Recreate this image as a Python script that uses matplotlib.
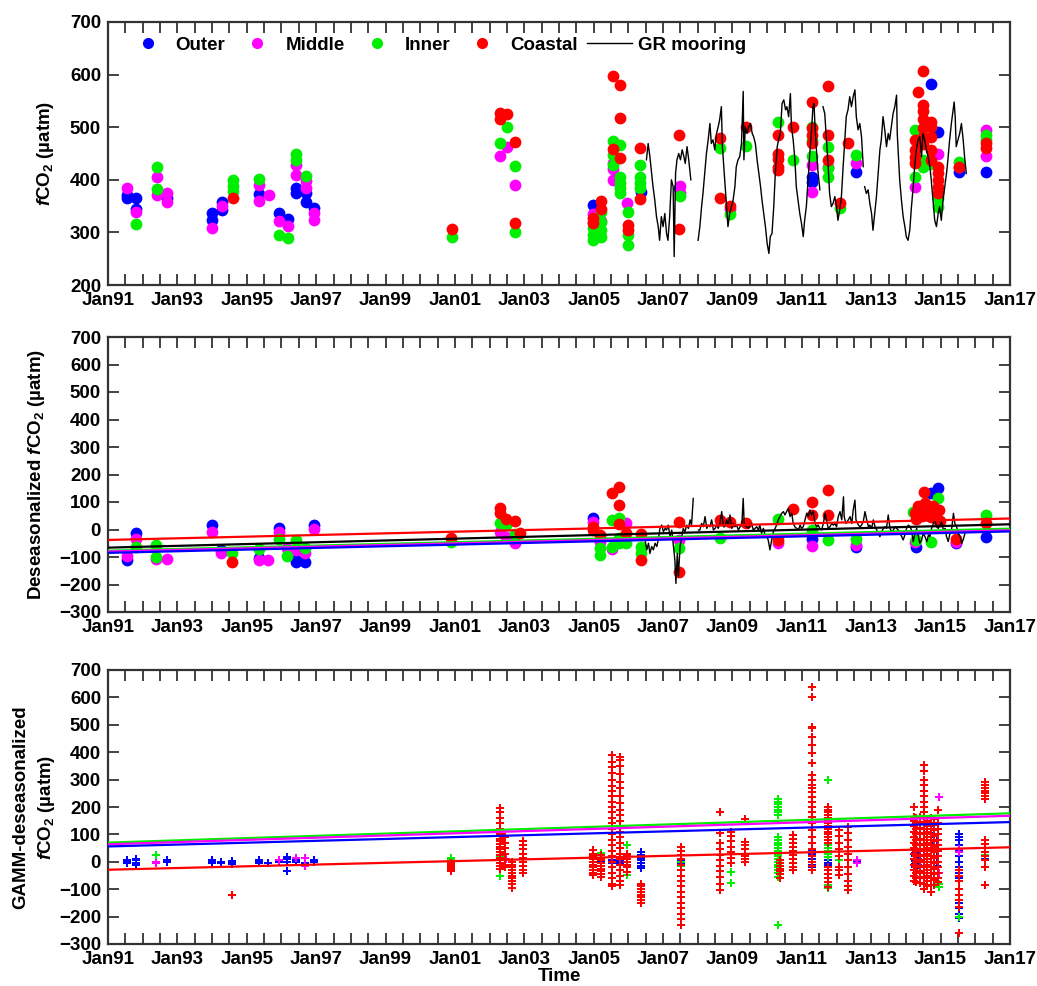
import numpy as np
import matplotlib
matplotlib.use('Agg')
import matplotlib.pyplot as plt
from matplotlib.lines import Line2D

plt.rcParams['font.family'] = ['Liberation Sans', 'DejaVu Sans']
plt.rcParams['font.weight'] = 'bold'
plt.rcParams['axes.labelweight'] = 'bold'
plt.rcParams['mathtext.fontset'] = 'custom'
plt.rcParams['mathtext.rm'] = 'Liberation Sans:bold'
plt.rcParams['mathtext.it'] = 'Liberation Sans:italic:bold'
plt.rcParams['mathtext.bf'] = 'Liberation Sans:bold'

C_OUT, C_MID, C_INN, C_COA = '#0000ff', '#ff00ff', '#00ee00', '#ff0000'

# ---------------- Panel 1: fCO2 ----------------
p1_outer_t = [1991.55, 1991.55, 1991.80, 1991.80, 1992.70, 1994.00, 1994.00, 1994.30, 1994.30, 1995.35,
              1995.93, 1996.18, 1996.43, 1996.43, 1996.70, 1996.70, 1996.95, 2004.98, 2006.36, 2007.46,
              2011.28, 2011.28, 2012.57, 2014.72, 2014.93, 2015.53, 2016.30]
p1_outer_v = [372, 365, 365, 344, 365, 336, 324, 358, 342, 373,
              336, 325, 385, 375, 375, 358, 347, 352, 377, 385,
              406, 396, 415, 583, 491, 415, 415]

p1_middle_t = [1991.55, 1991.80, 1992.40, 1992.40, 1992.70, 1992.70, 1994.00, 1994.30, 1995.35, 1995.35,
               1995.63, 1995.94, 1996.18, 1996.43, 1996.43, 1996.70, 1996.70, 1996.95, 1996.95, 2002.30,
               2002.50, 2002.73, 2004.98, 2004.98, 2005.20, 2005.55, 2005.55, 2005.55, 2005.95, 2007.50,
               2007.50, 2008.93, 2011.28, 2011.28, 2011.76, 2012.57, 2014.25, 2014.93, 2015.53, 2016.30,
               2016.30]
p1_middle_v = [385, 338, 405, 372, 375, 358, 309, 350, 390, 360,
               372, 322, 313, 428, 410, 398, 385, 336, 323, 445,
               462, 390, 335, 320, 322, 432, 420, 400, 355, 388,
               375, 345, 428, 377, 425, 431, 387, 450, 425, 495,
               445]

p1_inner_t = [1991.80, 1992.40, 1992.40, 1994.60, 1994.60, 1994.60, 1995.35, 1995.94, 1996.18, 1996.43,
              1996.43, 1996.70, 2000.92, 2002.30, 2002.50, 2002.73, 2002.73, 2004.99, 2004.99, 2004.99,
              2005.21, 2005.21, 2005.21, 2005.21, 2005.55, 2005.55, 2005.55, 2005.76, 2005.76, 2005.76,
              2005.76, 2005.76, 2005.98, 2005.98, 2005.98, 2006.34, 2006.34, 2006.34, 2006.34, 2007.50,
              2008.64, 2008.93, 2009.40, 2010.30, 2010.74, 2011.28, 2011.28, 2011.28, 2011.76, 2011.76,
              2011.76, 2012.09, 2012.57, 2014.25, 2014.25, 2014.50, 2014.50, 2014.72, 2014.93, 2014.93,
              2015.53, 2016.30, 2016.30]
p1_inner_v = [316, 425, 383, 400, 388, 378, 402, 296, 290, 450,
              438, 408, 292, 470, 500, 426, 300, 308, 295, 285,
              339, 320, 305, 292, 474, 447, 428, 466, 406, 394,
              384, 374, 339, 295, 276, 428, 405, 393, 384, 370,
              460, 335, 465, 510, 438, 500, 475, 445, 463, 422,
              406, 346, 447, 495, 406, 437, 425, 430, 365, 349,
              434, 485, 475]

p1_coastal_t = [1994.60, 2000.92, 2002.30, 2002.30, 2002.50, 2002.73, 2002.73, 2004.99, 2004.99, 2005.21,
                2005.21, 2005.55, 2005.55, 2005.76, 2005.76, 2005.76, 2005.98, 2005.98, 2006.34, 2006.34,
                2007.46, 2007.46, 2008.64, 2008.64, 2008.93, 2009.40, 2010.30, 2010.30, 2010.30, 2010.30,
                2010.30, 2010.74, 2011.28, 2011.28, 2011.28, 2011.28, 2011.76, 2011.76, 2011.76, 2012.09,
                2012.33, 2014.25, 2014.25, 2014.25, 2014.25, 2014.35, 2014.50, 2014.50, 2014.50, 2014.50,
                2014.50, 2014.50, 2014.50, 2014.72, 2014.72, 2014.72, 2014.72, 2014.72, 2014.93, 2014.93,
                2014.93, 2014.93, 2014.93, 2015.53, 2016.30, 2016.30]
p1_coastal_v = [365, 307, 527, 515, 525, 472, 318, 327, 317, 360,
                345, 597, 458, 580, 517, 441, 314, 305, 460, 363,
                485, 307, 480, 365, 350, 500, 485, 450, 440, 425,
                418, 500, 548, 498, 485, 470, 579, 485, 438, 355,
                470, 476, 457, 444, 431, 566, 606, 542, 530, 515,
                498, 482, 469, 510, 500, 482, 457, 437, 425, 412,
                400, 387, 374, 425, 470, 460]

# GR mooring (NaN = data gap)
p1_moor_t = [2006.52, 2006.57, 2006.62, 2006.66, 2006.71, 2006.76, 2006.81, 2006.86, 2006.90, 2006.95,
             2007.00, 2007.05, 2007.10, 2007.14, 2007.19, 2007.24, 2007.29, 2007.32, 2007.36, 2007.40,
             2007.45, 2007.50, 2007.55, 2007.60, 2007.64, 2007.69, 2007.74, 2007.80, 2007.90, 2008.01,
             2008.06, 2008.11, 2008.15, 2008.20, 2008.25, 2008.30, 2008.35, 2008.39, 2008.44, 2008.49,
             2008.54, 2008.59, 2008.63, 2008.68, 2008.71, 2008.75, 2008.79, 2008.83, 2008.87, 2008.92,
             2008.97, 2009.02, 2009.07, 2009.11, 2009.16, 2009.21, 2009.26, 2009.31, 2009.33, 2009.37,
             2009.42, 2009.47, 2009.52, 2009.57, 2009.61, 2009.66, 2009.71, 2009.76, 2009.81, 2009.85,
             2009.90, 2009.95, 2010.00, 2010.05, 2010.09, 2010.14, 2010.19, 2010.24, 2010.29, 2010.33,
             2010.38, 2010.43, 2010.48, 2010.53, 2010.57, 2010.62, 2010.67, 2010.70, 2010.75, 2010.80,
             2010.84, 2010.89, 2010.94, 2010.99, 2011.04, 2011.08, 2011.13, 2011.18, 2011.23, 2011.28,
             2011.32, 2011.35, 2011.38, 2011.42, 2011.47, 2011.52, 2011.56, 2011.61, 2011.66, 2011.71,
             2011.76, 2011.80, 2011.85, 2011.90, 2011.95, 2012.00, 2012.04, 2012.09, 2012.14, 2012.19,
             2012.24, 2012.28, 2012.33, 2012.38, 2012.43, 2012.48, 2012.53, 2012.57, 2012.62, 2012.67,
             2012.72, 2012.77, 2012.79, 2012.81, 2012.86, 2012.91, 2012.96, 2013.01, 2013.05, 2013.10,
             2013.15, 2013.20, 2013.25, 2013.29, 2013.34, 2013.39, 2013.44, 2013.49, 2013.53, 2013.58,
             2013.63, 2013.68, 2013.73, 2013.75, 2013.79, 2013.82, 2013.87, 2013.92, 2013.97, 2014.01,
             2014.06, 2014.11, 2014.16, 2014.21, 2014.25, 2014.30, 2014.35, 2014.40, 2014.45, 2014.49,
             2014.54, 2014.59, 2014.64, 2014.69, 2014.73, 2014.78, 2014.83, 2014.88, 2014.93, 2014.97,
             2015.02, 2015.07, 2015.12, 2015.17, 2015.21, 2015.26, 2015.31, 2015.36, 2015.39, 2015.42,
             2015.45, 2015.50, 2015.55, 2015.60, 2015.65, 2015.69, 2015.74]
p1_moor_v = [438, 469, 444, 419, 387, 362, 330, 311, 285, 330,
             311, 336, 298, 285, 330, 400, 387, 254, 412, 438,
             450, 438, 457, 444, 431, 463, 438, 400, np.nan, 285,
             311, 349, 374, 412, 450, 476, 507, 469, 476, 457,
             488, 501, 514, 539, 463, 425, 387, 349, 311, 336,
             349, 362, 387, 425, 438, 444, 469, 568, 438, 501,
             488, 501, 507, 488, 482, 469, 438, 412, 387, 362,
             336, 311, 279, 260, 292, 298, 349, 419, 463, 476,
             488, 545, 552, 533, 539, 520, 564, 501, 476, 438,
             387, 362, 336, 317, 292, 323, 349, 400, 450, 495,
             539, 545, 501, 457, 412, 381, np.nan, 539, 526, 476,
             425, 374, 349, 355, 368, 349, 323, 342, 368, 425,
             476, 520, 533, 558, 539, 558, 571, 520, 495, 507,
             482, 425, np.nan, 387, 374, 381, 355, 336, 304, 336,
             368, 412, 457, 476, 520, 495, 463, 488, 476, 501,
             526, 539, 561, 488, 438, 400, 362, 330, 311, 292,
             285, 304, 349, 387, 425, 457, 476, 482, 444, 488,
             476, 457, 444, 425, 400, 362, 323, 311, 336, 349,
             323, 362, 387, 412, 438, 476, 507, 533, 548, 520,
             463, 476, 488, 507, 476, 444, 412]

# ---------------- Panel 2: deseasonalized ----------------
p2_outer_t = [1991.54, 1991.80, 1994.00, 1994.25, 1995.35, 1995.93, 1996.42, 1996.42, 1996.68, 1996.94,
              2004.98, 2011.28, 2012.57, 2014.30, 2014.72, 2014.92, 2015.44, 2016.30]
p2_outer_v = [-111, -11, 16, -74, -105, 4, -111, -119, -119, 16,
              41, -36, -65, -65, 131, 150, -50, -26]

p2_middle_t = [1991.54, 1991.80, 1992.38, 1992.69, 1994.00, 1994.25, 1995.35, 1995.62, 1995.93, 1996.17,
               1996.42, 1996.68, 1996.94, 2002.30, 2002.47, 2002.73, 2004.98, 2005.19, 2005.54, 2005.73,
               2005.94, 2007.46, 2010.31, 2011.28, 2012.57, 2014.25, 2015.44]
p2_middle_v = [-96, -36, -108, -108, -8, -84, -111, -111, -8, -68,
               -75, -87, 2, -8, -28, -50, 29, -45, -72, 30,
               25, -38, -50, -60, -55, -44, -45]

p2_inner_t = [1991.80, 1992.38, 1992.38, 1994.58, 1995.35, 1995.93, 1996.17, 1996.42, 1996.68, 2000.90,
              2002.30, 2002.47, 2002.73, 2005.19, 2005.19, 2005.54, 2005.54, 2005.73, 2005.73, 2005.73,
              2005.94, 2006.36, 2006.36, 2007.46, 2008.63, 2010.31, 2011.28, 2011.75, 2012.57, 2014.20,
              2014.30, 2014.72, 2014.93, 2016.30]
p2_inner_v = [-62, -56, -99, -87, -72, -36, -96, -38, -68, -44,
              22, 16, -16, -68, -93, 35, -62, 41, -32, -50,
              -50, -62, -87, -68, -32, 37, 0, -38, -36, 65,
              -38, -44, 113, 53]

p2_coastal_t = [1994.58, 2000.90, 2002.30, 2002.30, 2002.47, 2002.73, 2002.87, 2004.98, 2004.98, 2005.19,
                2005.54, 2005.73, 2005.73, 2005.73, 2005.94, 2006.36, 2006.36, 2007.46, 2007.46, 2008.63,
                2008.92, 2009.38, 2010.31, 2010.75, 2011.28, 2011.28, 2011.75, 2011.75, 2014.25, 2014.30,
                2014.35, 2014.40, 2014.45, 2014.52, 2014.55, 2014.62, 2014.65, 2014.72, 2014.78, 2014.85,
                2014.90, 2014.95, 2014.97, 2015.44, 2016.30]
p2_coastal_v = [-119, -32, 77, 61, 37, 31, -14, 10, -2, -20,
                132, 156, 89, 20, -14, -16, -111, 29, -153, 35,
                29, 22, -38, 73, 101, 53, 144, 53, 60, 40,
                85, 70, 50, 138, 95, 75, 55, 45, 85, 60,
                40, 70, 30, -36, 25]

p2_moor_t = [2006.48, 2006.53, 2006.58, 2006.62, 2006.67, 2006.72, 2006.77, 2006.82, 2006.86, 2006.91,
             2006.96, 2007.01, 2007.06, 2007.10, 2007.15, 2007.20, 2007.25, 2007.30, 2007.34, 2007.37,
             2007.41, 2007.44, 2007.49, 2007.54, 2007.58, 2007.63, 2007.68, 2007.73, 2007.78, 2007.82,
             2007.87, 2007.95, 2008.02, 2008.06, 2008.11, 2008.16, 2008.21, 2008.26, 2008.30, 2008.35,
             2008.40, 2008.45, 2008.50, 2008.55, 2008.59, 2008.64, 2008.69, 2008.74, 2008.78, 2008.83,
             2008.88, 2008.93, 2008.98, 2009.03, 2009.07, 2009.12, 2009.17, 2009.22, 2009.27, 2009.31,
             2009.34, 2009.41, 2009.46, 2009.51, 2009.55, 2009.60, 2009.65, 2009.70, 2009.75, 2009.79,
             2009.84, 2009.89, 2009.94, 2009.99, 2010.03, 2010.08, 2010.13, 2010.18, 2010.23, 2010.27,
             2010.32, 2010.37, 2010.42, 2010.47, 2010.51, 2010.56, 2010.61, 2010.66, 2010.71, 2010.75,
             2010.80, 2010.85, 2010.90, 2010.95, 2010.99, 2011.04, 2011.09, 2011.14, 2011.19, 2011.23,
             2011.28, 2011.33, 2011.38, 2011.43, 2011.47, 2011.52, 2011.57, 2011.62, 2011.67, 2011.71,
             2011.76, 2011.81, 2011.86, 2011.91, 2011.95, 2012.00, 2012.05, 2012.10, 2012.15, 2012.20,
             2012.22, 2012.27, 2012.34, 2012.39, 2012.44, 2012.48, 2012.53, 2012.56, 2012.63, 2012.68,
             2012.72, 2012.77, 2012.82, 2012.87, 2012.92, 2012.96, 2013.01, 2013.06, 2013.11, 2013.16,
             2013.20, 2013.25, 2013.30, 2013.35, 2013.40, 2013.44, 2013.49, 2013.54, 2013.59, 2013.64,
             2013.68, 2013.73, 2013.78, 2013.83, 2013.88, 2013.92, 2013.97, 2014.02, 2014.07, 2014.12,
             2014.16, 2014.21, 2014.26, 2014.31, 2014.36, 2014.40, 2014.45, 2014.50, 2014.55, 2014.60,
             2014.65, 2014.69, 2014.74, 2014.79, 2014.84, 2014.88, 2014.93, 2014.98, 2015.03, 2015.08,
             2015.13, 2015.17, 2015.22, 2015.27, 2015.32, 2015.37, 2015.41, 2015.46, 2015.51, 2015.56,
             2015.61, 2015.65, 2015.70]
p2_moor_v = [-38, -74, -50, -87, -62, -74, -50, -62, -38, 4,
             16, -8, 4, -2, 16, -26, -2, -62, -111, -196,
             -87, -171, -62, -26, 4, -8, 16, 4, 35, 16,
             113, np.nan, -2, -2, 22, 10, 47, 4, 16, 10,
             35, -2, 4, 16, 4, 22, 65, 10, 10, 35,
             16, 53, 4, 22, 10, 16, -2, 10, 16, 113,
             16, 10, 4, 16, 22, -2, 4, 10, -2, 16,
             -14, 4, -20, -26, -38, -74, -38, -8, 4, 16,
             35, 47, 59, 65, 53, 65, 77, 47, 59, 22,
             10, 4, -2, 16, 4, 10, 35, 59, 47, 71,
             53, 65, 22, 10, 16, 4, -2, 22, 59, 35,
             4, 10, 22, 16, 22, 10, 47, 65, 35, 119,
             47, 22, 35, 47, 22, 71, 107, 35, 16, 10,
             16, 28, 65, 35, 10, 16, 4, 35, 10, -2,
             -14, -26, -8, 4, 10, 4, 53, 4, -8, -2,
             10, 4, -2, -14, -26, -38, -20, 4, 16, 10,
             -2, -44, -14, 4, -26, -50, -38, -14, -26, -44,
             -20, -26, 4, 22, 35, 10, 4, 16, 28, -2,
             4, -26, -44, -14, 4, 59, 22, 10, -14, -26,
             -50, -38, -14]

trend_t = [1991.0, 2017.0]
p2_trend_coastal = [-38, 40]
p2_trend_moor = [-66, 19]
p2_trend_inner = [-77, 3]
p2_trend_middle = [-80, -3]
p2_trend_outer = [-85, -7]

# ---------------- Panel 3: GAMM-deseasonalized (columns of points) ----------------
g_outer_t = [1991.54, 1991.80, 1992.69, 1994.00, 1994.25, 1994.58, 1995.35, 1995.62, 1995.93, 1996.17,
             1996.42, 1996.68, 1996.94, 2004.99, 2005.20, 2005.52, 2005.76, 2005.95, 2006.36, 2007.52,
             2011.30, 2011.76, 2012.58, 2014.25, 2014.35, 2014.72, 2014.90, 2015.54, 2016.28]
g_outer_v = [[-5, 0, 5], [-10, -3, 5, 10], [0, 5, 8], [-3, 2, 6], [-5, 0], [-8, -2, 3], [-3, 3, 8], [-5],
             [0, 5], [-33, 0, 10, 18], [0, 6], [-5], [0, 6], [0, 12], [0, 8], [-5, 0, 5], [-5, 0, 5], [0],
             [-24, -15, -5, 5, 15, 25, 37], [-5, 0, 5], [-30, -20, -10, 0, 10, 20, 30, 43],
             [-12, -5, 5, 18], [0, 8], [-18, -8, 2, 12, 22, 33, 43], [-10, 0, 10, 20],
             [130, 105, 90, 67, 45, 20, 0, -20, -40], [80, 60, 40, 20, 0, -15],
             [100, 90, 80, 60, 40, 20, 0, -20, -40, -60, -100, -150, -170, -190, -205], [12, 5]]

g_middle_t = [1992.38, 1995.93, 1996.42, 1996.68, 2002.47, 2012.58, 2014.95, 2015.54]
g_middle_v = [[-5, 0], [5], [15], [15, -15], [10], [-5, 5], [235, -40], [37, 45]]

g_inner_t = [1992.38, 2000.90, 2002.30, 2005.20, 2005.95, 2007.52, 2008.96, 2010.32, 2011.76, 2012.08,
             2014.95, 2015.54, 2016.28]
g_inner_v = [[25], [15, 5], [-50, 20], [31], [61, -48], [0, -15, 10], [-36, -79],
             [231, 220, 210, 200, 190, 180, 170, 91, 80, 70, 60, 50, 40, 30, 20, 10, 0, -10, -20, -30,
              -40, -55, -231],
             [298, 61, 50, 40, 30, 18, -97, -85], [5], [-91, -80], [-200], [25]]

g_coastal_t = [1994.58, 2000.90, 2002.30, 2002.45, 2002.65, 2002.95, 2004.99, 2005.20, 2005.52, 2005.76,
               2005.95, 2006.36, 2007.52, 2008.64, 2008.96, 2009.36, 2010.37, 2010.75, 2011.30, 2011.76,
               2012.08, 2012.32, 2014.22, 2014.30, 2014.40, 2014.52, 2014.62, 2014.72, 2014.82, 2014.92,
               2015.54, 2016.28]
g_coastal_v = [[-122],
               [-5, -10, -15, -20, -25, -30, -35],
               [195, 180, 160, 140, 120, 100, 85, 75, 65, 55, 45, 35, 25, 15, 5, -5, -15, -25],
               [90, 70, 50, 30, 10, -10, -20],
               [0, -10, -20, -30, -40, -50, -60, -70, -80, -95],
               [75, 60, 45, 30, 15, 0, -15, -30, -42],
               [43, 30, 20, 10, 0, -10, -20, -30, -40, -48],
               [25, 15, 5, -5, -15, -25, -35, -45, -55],
               [390, 365, 345, 325, 300, 275, 260, 240, 220, 200, 180, 160, 140, 120, 100, 80, 60, 40, 20,
                0, -20, -40, -60, -80, -90],
               [384, 370, 350, 320, 290, 270, 240, 215, 190, 170, 150, 130, 110, 90, 70, 50, 30, 10, -10,
                -30, -50, -70, -85],
               [30, 20, 10, 0, -10, -20, -36],
               [-80, -90, -100, -110, -120, -130, -140, -152],
               [55, 40, 25, 10, -10, -30, -50, -70, -90, -110, -130, -150, -170, -190, -210, -230],
               [183, 104, 67, 45, 25, 5, -15, -35, -55, -80, -103],
               [110, 95, 75, 55, 35, 15, -6],
               [158, 73, 60, 45, 30, 20, 10, 0],
               [6, -5, -15, -25, -35, -45, -60],
               [98, 85, 70, 55, 40, 25, 10, -5, -20, -30],
               [639, 603, 493, 487, 457, 426, 396, 359, 317, 298, 280, 268, 256, 238, 220, 201, 183, 164,
                140, 116, 90, 67, 45, 20, 0, -15, -30],
               [200, 190, 180, 170, 160, 150, 140, 130, 120, 110, 100, 90, 80, 70, -18, -30, -45, -60, -75,
                -91],
               [116, 95, 70, 45, 20, -18, -30, -48],
               [128, 105, 80, 55, 30, 5, -20, -45, -70, -90, -103],
               [201, 165, 150, 130, 110, 90, 70, 50, 30, 10, -10, -30, -50, -70],
               [160, 140, 120, 100, 80, 60, 40, 20, 0, -20, -40, -60, -75],
               [165, 145, 125, 105, 85, 65, 45, 25, 5, -15, -35, -55, -79],
               [353, 330, 300, 280, 260, 240, 220, 200, 180, 160, 140, 120, 100, 80, 60, 40, 20, 0, -20,
                -40, -60, -80, -100],
               [150, 130, 110, 90, 70, 50, 30, 10, -10, -30, -50, -70, -90],
               [160, 140, 120, 100, 80, 60, 40, 20, 0, -20, -40, -60, -85, -109],
               [155, 135, 115, 95, 75, 55, 35, 15, -5, -25, -45, -65, -85],
               [189, 140, 120, 100, 80, 60, 40, 20, 0, -20, -40, -60, -75],
               [-30, -50, -70, -100, -120, -140, -165, -261],
               [292, 280, 270, 260, 250, 240, 231, 79, 65, 50, 35, 20, 5, -18, -85]]

p3_trend_inner = [70, 177]
p3_trend_middle = [64, 168]
p3_trend_outer = [56, 145]
p3_trend_coastal = [-29, 53]

x_labels = ['Jan91', 'Jan93', 'Jan95', 'Jan97', 'Jan99', 'Jan01', 'Jan03', 'Jan05', 'Jan07',
            'Jan09', 'Jan11', 'Jan13', 'Jan15', 'Jan17']


def expand(ts, vs):
    xs = [t for t, col in zip(ts, vs) for _ in col]
    ys = [v for col in vs for v in col]
    return xs, ys


FS = 13.5
fig = plt.figure(figsize=(10.37, 9.86), dpi=100)
W = 1037.0
H = 986.0
L = 108 / W
AW = (1010 - 108) / W


def style(ax, ylo, yhi):
    ax.set_xlim(1991, 2017)
    ax.set_ylim(ylo, yhi)
    ax.set_yticks(np.arange(ylo, yhi + 1, 100))
    xt = np.arange(1991, 2017.01, 0.5)
    ax.set_xticks(xt)
    lab = []
    k = 0
    for x in xt:
        if abs((x - 1991) % 2) < 1e-6:
            lab.append(x_labels[k])
            k += 1
        else:
            lab.append('')
    ax.set_xticklabels(lab)
    ax.tick_params(direction='in', top=True, right=True, length=8, width=1.3,
                   labelsize=FS, pad=5, color='#333333')
    for s in ax.spines.values():
        s.set_linewidth(1.6)
        s.set_color('#333333')


ms_big = 72

# ---- Panel 1
ax1 = fig.add_axes([L, 1 - 285 / H, AW, (285 - 22) / H])
style(ax1, 200, 700)
ax1.scatter(p1_outer_t, p1_outer_v, s=ms_big, c=C_OUT, marker='o', lw=0, zorder=2)
ax1.scatter(p1_middle_t, p1_middle_v, s=ms_big, c=C_MID, marker='o', lw=0, zorder=2)
ax1.scatter(p1_inner_t, p1_inner_v, s=ms_big, c=C_INN, marker='o', lw=0, zorder=2)
ax1.scatter(p1_coastal_t, p1_coastal_v, s=ms_big, c=C_COA, marker='o', lw=0, zorder=2)
ax1.plot(p1_moor_t, p1_moor_v, color='black', lw=1.0, zorder=3)
ax1.set_ylabel(r'$\mathit{f}$CO$_\mathrm{2}$ (µatm)', fontsize=FS)
ax1.yaxis.set_label_coords(-52 / 902, 0.5)
handles = [Line2D([], [], ls='none', marker='o', ms=7, mfc=c, mec=c) for c in (C_OUT, C_MID, C_INN, C_COA)]
handles.append(Line2D([], [], color='black', lw=1.0))
ax1.legend(handles, ['Outer', 'Middle', 'Inner', 'Coastal', 'GR mooring'], loc='center left',
           bbox_to_anchor=(17 / 902, 1 - 23 / 263), ncol=5, frameon=False, fontsize=13.5,
           handlelength=2.4, handletextpad=0.3, columnspacing=0.5, borderpad=0, borderaxespad=0)

# ---- Panel 2
ax2 = fig.add_axes([L, 1 - 612 / H, AW, (612 - 337) / H])
style(ax2, -300, 700)
ax2.scatter(p2_outer_t, p2_outer_v, s=ms_big, c=C_OUT, marker='o', lw=0, zorder=2)
ax2.scatter(p2_middle_t, p2_middle_v, s=ms_big, c=C_MID, marker='o', lw=0, zorder=2)
ax2.scatter(p2_inner_t, p2_inner_v, s=ms_big, c=C_INN, marker='o', lw=0, zorder=2)
ax2.scatter(p2_coastal_t, p2_coastal_v, s=ms_big, c=C_COA, marker='o', lw=0, zorder=2)
ax2.plot(p2_moor_t, p2_moor_v, color='black', lw=1.0, zorder=3)
ax2.plot(trend_t, p2_trend_inner, color=C_INN, lw=1.6, zorder=4)
ax2.plot(trend_t, p2_trend_middle, color=C_MID, lw=1.6, zorder=4)
ax2.plot(trend_t, p2_trend_outer, color=C_OUT, lw=1.6, zorder=4)
ax2.plot(trend_t, p2_trend_moor, color='black', lw=1.6, zorder=4)
ax2.plot(trend_t, p2_trend_coastal, color=C_COA, lw=1.6, zorder=4)
ax2.set_ylabel(r'Deseasonalized $\mathit{f}$CO$_\mathrm{2}$ (µatm)', fontsize=FS)
ax2.yaxis.set_label_coords(-61 / 902, 0.5)

# ---- Panel 3
ax3 = fig.add_axes([L, 1 - 944 / H, AW, (944 - 670) / H])
style(ax3, -300, 700)
ms_small = 32
for ts, vs, c in ((g_outer_t, g_outer_v, C_OUT), (g_middle_t, g_middle_v, C_MID),
                  (g_inner_t, g_inner_v, C_INN), (g_coastal_t, g_coastal_v, C_COA)):
    xs, ys = expand(ts, vs)
    ax3.scatter(xs, ys, s=ms_small, c=c, marker='P', lw=0, zorder=2)
ax3.plot(trend_t, p3_trend_inner, color=C_INN, lw=1.6, zorder=4)
ax3.plot(trend_t, p3_trend_middle, color=C_MID, lw=1.6, zorder=4)
ax3.plot(trend_t, p3_trend_outer, color=C_OUT, lw=1.6, zorder=4)
ax3.plot(trend_t, p3_trend_coastal, color=C_COA, lw=1.6, zorder=4)
ax3.set_ylabel('GAMM-deseasonalized\n' + r'$\mathit{f}$CO$_\mathrm{2}$ (µatm)', fontsize=FS, linespacing=1.45)
ax3.yaxis.set_label_coords(-51 / 902, 0.5)
ax3.set_xlabel('Time', fontsize=FS, labelpad=0)

fig.savefig('out.png', dpi=100)
